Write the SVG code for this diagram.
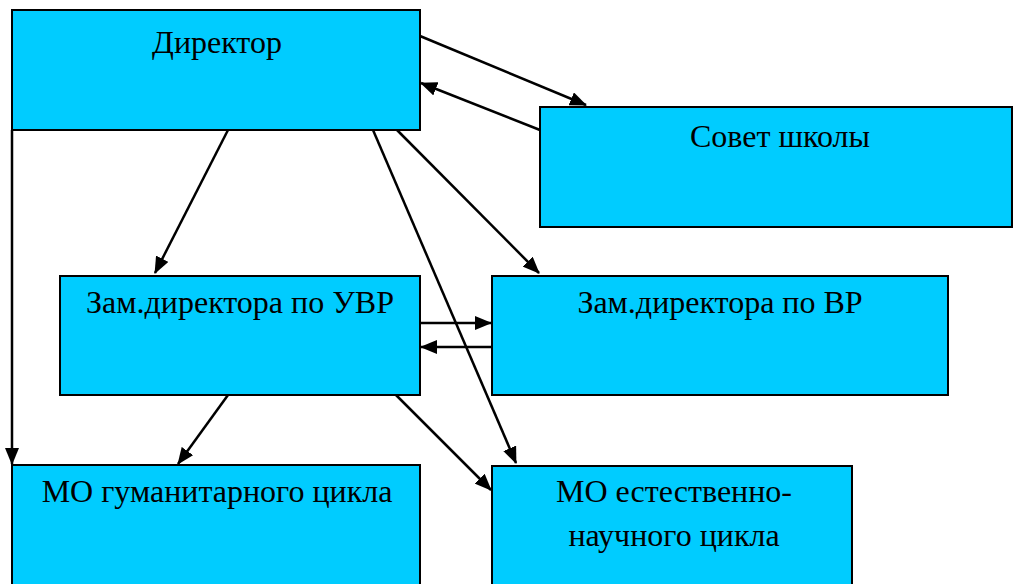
<svg xmlns="http://www.w3.org/2000/svg" width="1013" height="584" viewBox="0 0 1013 584">
<style>
.box{fill:#00CCFF;stroke:#000;stroke-width:2}
.t{font-family:"Liberation Serif","Times New Roman",serif;font-size:32px;fill:#000;text-anchor:middle}
.c{stroke:#000;stroke-width:2.5;fill:none;marker-end:url(#ah)}
</style>
<defs>
<marker id="ah" markerWidth="17" markerHeight="14" refX="16" refY="7" orient="auto" markerUnits="userSpaceOnUse" viewBox="0 0 17 14">
<path d="M0,0 L17,7 L0,14 z" fill="#000"/>
</marker>
</defs>
<rect width="1013" height="584" fill="#fff"/>
<g id="director"><rect class="box" x="12" y="10" width="408" height="120"/><text class="t" x="217" y="53">Директор</text></g>
<g id="sovet"><rect class="box" x="540" y="107" width="472" height="120"/><text class="t" x="780" y="147">Совет школы</text></g>
<g id="zam-uvr"><rect class="box" x="60" y="276" width="360" height="119"/><text class="t" x="240" y="313">Зам.директора по УВР</text></g>
<g id="zam-vr"><rect class="box" x="492" y="276" width="456" height="119"/><text class="t" x="720" y="313">Зам.директора по ВР</text></g>
<g id="mo-gum"><rect class="box" x="12" y="465" width="408" height="125"/><text class="t" x="217" y="502">МО гуманитарного цикла</text></g>
<g id="mo-est"><rect class="box" x="492" y="466" width="360" height="124"/><text class="t" x="674" y="502">МО естественно-</text><text class="t" x="674" y="546">научного цикла</text></g>
<g id="connectors">
<line class="c" x1="420" y1="36" x2="586" y2="105"/>
<line class="c" x1="540" y1="130" x2="421" y2="83"/>
<line class="c" x1="228" y1="130" x2="155" y2="273"/>
<line class="c" x1="397" y1="130" x2="539" y2="273"/>
<line class="c" x1="373" y1="130" x2="516" y2="463"/>
<line class="c" x1="12" y1="130" x2="12" y2="464"/>
<line class="c" x1="420" y1="323" x2="491" y2="323"/>
<line class="c" x1="492" y1="347" x2="421" y2="347"/>
<line class="c" x1="228" y1="395" x2="178" y2="464"/>
<line class="c" x1="396" y1="395" x2="491" y2="490"/>
</g>
</svg>
